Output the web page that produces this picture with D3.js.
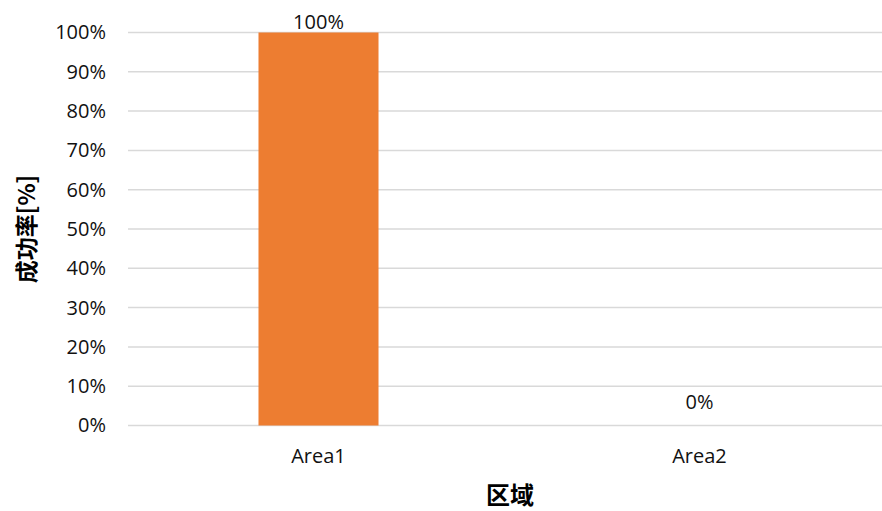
<!DOCTYPE html>
<html>
<head>
<meta charset="utf-8">
<script src="https://cdn.jsdelivr.net/npm/d3@7"></script>
<style>
  html, body { margin: 0; padding: 0; background: #fff; }
  svg { display: block; }
  .tick-label { font-family: "Open Sans", "Noto Sans", sans-serif; font-size: 20px; fill: #111; }
  .axis-title { font-family: "Noto Sans CJK SC", sans-serif; font-weight: bold; fill: #000; }
</style>
</head>
<body>
<svg id="chart" width="882" height="511"></svg>
<script>
// Success rate per area
const categories = ["Area1", "Area2"];
const successRate = [100, 0];
const yTicks = [0, 10, 20, 30, 40, 50, 60, 70, 80, 90, 100];

const width = 882, height = 511;
const plot = { left: 128, right: 890, top: 32.5, bottom: 425.5 };

const svg = d3.select("#chart");

const x = d3.scaleBand().domain(categories).range([plot.left, plot.right]);
const y = d3.scaleLinear().domain([0, 100]).range([plot.bottom, plot.top]);
const barWidth = x.bandwidth() * 0.315;

// Horizontal gridlines
svg.append("g")
  .selectAll("line")
  .data(yTicks)
  .join("line")
  .attr("x1", plot.left)
  .attr("x2", plot.right)
  .attr("y1", d => y(d))
  .attr("y2", d => y(d))
  .attr("stroke", "#d9d9d9")
  .attr("stroke-width", 1.5);

// Y axis tick labels
const yAxis = d3.axisLeft(y).tickValues(yTicks).tickFormat(d => d + "%").tickSize(0).tickPadding(22);
const yAxisG = svg.append("g").attr("transform", `translate(${plot.left},0)`).call(yAxis);
yAxisG.select(".domain").remove();
yAxisG.selectAll("text").attr("class", "tick-label").attr("font-size", null).attr("font-family", null).attr("fill", null);

// X axis category labels
const xAxis = d3.axisBottom(x).tickSize(0).tickPadding(23);
const xAxisG = svg.append("g").attr("transform", `translate(0,${plot.bottom})`).call(xAxis);
xAxisG.select(".domain").remove();
xAxisG.selectAll("text").attr("class", "tick-label").attr("font-size", null).attr("font-family", null).attr("fill", null);

// Bars
svg.append("g")
  .selectAll("rect")
  .data(categories)
  .join("rect")
  .attr("x", (d) => x(d) + x.bandwidth() / 2 - barWidth / 2)
  .attr("width", barWidth)
  .attr("y", (d, i) => y(successRate[i]))
  .attr("height", (d, i) => y(0) - y(successRate[i]))
  .attr("fill", "#ED7D31");

// Value labels (zero-height bars get their label lifted clear of the baseline)
svg.append("g")
  .selectAll("text")
  .data(categories)
  .join("text")
  .attr("class", "tick-label")
  .attr("x", d => x(d) + x.bandwidth() / 2)
  .attr("y", (d, i) => y(successRate[i]) - (successRate[i] === 0 ? 17 : 3.5))
  .attr("text-anchor", "middle")
  .text((d, i) => successRate[i] + "%");

// Axis titles
svg.append("text")
  .attr("class", "axis-title")
  .attr("font-size", 24)
  .attr("x", 510)
  .attr("y", 504)
  .attr("text-anchor", "middle")
  .text("区域");

svg.append("text")
  .attr("class", "axis-title")
  .attr("font-size", 23)
  .attr("transform", "translate(35,229) rotate(-90)")
  .attr("text-anchor", "middle")
  .text("成功率[%]");
</script>
</body>
</html>
